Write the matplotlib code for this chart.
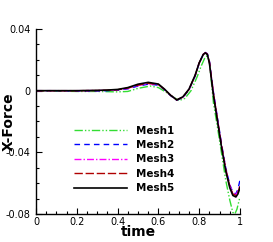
import numpy as np
import matplotlib.pyplot as plt
from matplotlib.ticker import MultipleLocator, FixedLocator

# time samples
t_black = [0, 0.1, 0.2, 0.3, 0.35, 0.4, 0.45, 0.5, 0.55, 0.6, 0.63, 0.66, 0.69,
           0.72, 0.75, 0.78, 0.8, 0.82, 0.83, 0.84, 0.85, 0.87, 0.89, 0.91, 0.93,
           0.95, 0.965, 0.98, 0.99, 1.0]
mesh5 = [0, 0, 0, 0.0002, 0.0004, 0.0008, 0.002, 0.0042, 0.0054, 0.0043, 0.001,
         -0.003, -0.006, -0.004, 0.001, 0.010, 0.018, 0.0235, 0.0245, 0.0235,
         0.018, -0.003, -0.020, -0.037, -0.052, -0.063, -0.068, -0.069, -0.067,
         -0.063]
mesh4 = [0, 0, 0, 0.0001, 0.0003, 0.0006, 0.0017, 0.0036, 0.0048, 0.0040, 0.0008,
         -0.003, -0.006, -0.0042, 0.0008, 0.0098, 0.018, 0.0235, 0.0246, 0.0237,
         0.0185, -0.002, -0.019, -0.036, -0.051, -0.062, -0.067, -0.068, -0.066,
         -0.062]
mesh3 = [0, 0, 0, 0.0001, 0.0002, 0.0005, 0.0015, 0.0034, 0.0046, 0.0039, 0.0008,
         -0.003, -0.006, -0.0043, 0.0007, 0.0096, 0.018, 0.0236, 0.0247, 0.0238,
         0.019, -0.0015, -0.0185, -0.0355, -0.0505, -0.0615, -0.0665, -0.0675,
         -0.0655, -0.0615]
mesh2 = [0, 0, -0.0002, -0.0002, 0, 0.0003, 0.0012, 0.003, 0.0042, 0.0036, 0.0006,
         -0.0032, -0.0062, -0.0045, 0.0005, 0.0094, 0.0178, 0.0236, 0.0248, 0.024,
         0.0192, -0.001, -0.018, -0.035, -0.050, -0.061, -0.066, -0.067, -0.064,
         -0.058]
t_green = [0, 0.1, 0.2, 0.3, 0.4, 0.45, 0.5, 0.56, 0.6, 0.65, 0.7, 0.73, 0.76,
           0.79, 0.81, 0.83, 0.84, 0.85, 0.87, 0.89, 0.91, 0.93, 0.95, 0.965,
           0.975, 0.985, 1.0]
mesh1 = [0, -0.0003, -0.0005, -0.0005, -0.0008, -0.0005, 0.0015, 0.003, 0.002,
         -0.002, -0.0065, -0.005, 0.0, 0.009, 0.016, 0.022, 0.0225, 0.019, -0.008,
         -0.024, -0.041, -0.058, -0.071, -0.079, -0.080, -0.077, -0.069]

x_ticks = [0, 0.2, 0.4, 0.6, 0.8, 1]
x_labels = ['0', '0.2', '0.4', '0.6', '0.8', '1']
y_ticks = [0.04, 0, -0.04, -0.08]
y_labels = ['0.04', '0', '-0.04', '-0.08']

fig = plt.figure(figsize=(2.73, 2.42), dpi=100)
ax = fig.add_axes([0.132, 0.116, 0.747, 0.764])

ax.plot(t_green, mesh1, color='#33dd33', lw=1.0, ls=(0, (6, 1.5, 1, 1.5, 1, 1.5)), label='Mesh1')
ax.plot(t_black, mesh2, color='#0000ff', lw=1.0, ls=(0, (4, 3)), label='Mesh2')
ax.plot(t_black, mesh3, color='#ff00ff', lw=1.0, ls=(0, (5, 1.5, 1, 1.5)), label='Mesh3')
ax.plot(t_black, mesh4, color='#b00000', lw=1.0, ls=(0, (6, 2)), label='Mesh4')
ax.plot(t_black, mesh5, color='black', lw=1.2, label='Mesh5')

ax.set_xlim(0, 1)
ax.set_ylim(-0.08, 0.04)
ax.xaxis.set_major_locator(FixedLocator(x_ticks))
ax.set_xticklabels(x_labels)
ax.yaxis.set_major_locator(FixedLocator(y_ticks))
ax.set_yticklabels(y_labels)
ax.xaxis.set_minor_locator(MultipleLocator(0.05))
ax.yaxis.set_minor_locator(MultipleLocator(0.01))
ax.tick_params(which='both', direction='in', labelsize=7, width=0.8)
ax.tick_params(axis='x', pad=2)
ax.tick_params(axis='y', pad=4)
ax.tick_params(which='major', length=4)
ax.tick_params(which='minor', length=2)
for side in ['top', 'right']:
    ax.spines[side].set_visible(False)
for side in ['left', 'bottom']:
    ax.spines[side].set_linewidth(1.0)

ax.set_xlabel('time', fontsize=10, fontweight='bold', labelpad=-1)
ax.set_ylabel('X-Force', fontsize=10, fontweight='bold')
ax.yaxis.set_label_coords(-0.102, 0.5)

leg = ax.legend(loc='upper left', bbox_to_anchor=(0.14, 0.528), frameon=False,
                handlelength=5.1, handletextpad=0.9, labelspacing=0.42,
                prop={'size': 7.5, 'weight': 'bold'})

plt.savefig('out.png', dpi=100)
plt.close()
